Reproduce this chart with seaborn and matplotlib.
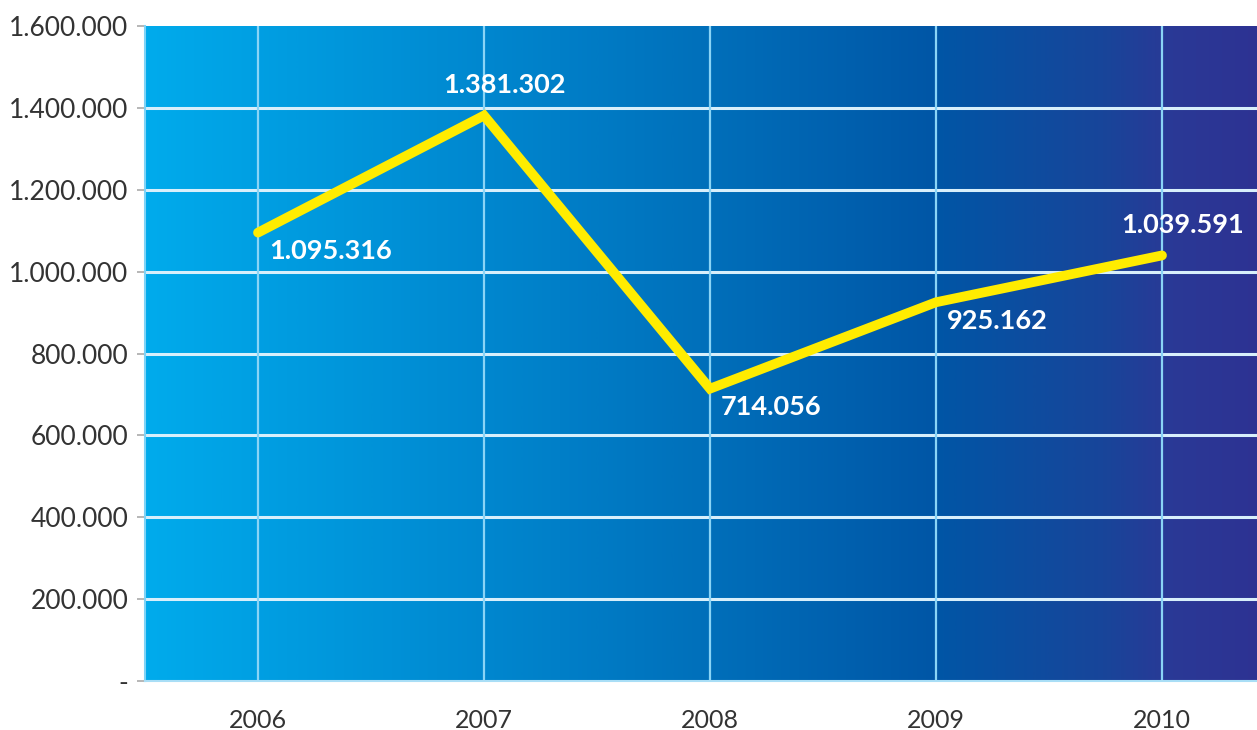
import numpy as np
import pandas as pd
import matplotlib
matplotlib.use("Agg")
import matplotlib.pyplot as plt
from matplotlib.colors import LinearSegmentedColormap
from matplotlib.ticker import FuncFormatter
import seaborn as sns

# Yearly totals
years = ["2006", "2007", "2008", "2009", "2010"]
values = [1095316, 1381302, 714056, 925162, 1039591]
value_labels = ["1.095.316", "1.381.302", "714.056", "925.162", "1.039.591"]
label_above = [False, True, False, False, True]

y_ticks = [0, 200000, 400000, 600000, 800000, 1000000, 1200000, 1400000, 1600000]

sns.set_style("white")
plt.rcParams["font.family"] = ["Lato", "DejaVu Sans"]

df = pd.DataFrame({"year": years, "value": values})

fig = plt.figure(figsize=(12.57, 7.30), dpi=100)
ax = fig.add_axes([145 / 1257, 49 / 730, 1130 / 1257, 655 / 730])

# horizontal blue gradient background
grad_cmap = LinearSegmentedColormap.from_list(
    "bg", [(0.0, "#00ABEC"), (0.30, "#0087CF"), (0.50, "#006FBA"),
           (0.70, "#0056A6"), (0.85, "#18459A"), (0.91, "#2A3996"),
           (1.0, "#2E3192")])
ax.imshow(np.linspace(0, 1, 512)[None, :], cmap=grad_cmap, aspect="auto",
          extent=[0, 1, 0, 1], transform=ax.transAxes, zorder=0,
          interpolation="bilinear")

sns.lineplot(data=df, x="year", y="value", ax=ax, color="#FFEC00",
             linewidth=7, zorder=5, sort=False)
ax.lines[-1].set_solid_joinstyle("miter")
ax.lines[-1].set_solid_capstyle("round")

ax.set_xlim(-0.5, 4.5)
ax.set_ylim(0, 1600000)
ax.set_yticks(y_ticks)
ax.yaxis.set_major_formatter(FuncFormatter(
    lambda v, _: "-" if v == 0 else f"{int(v):,}".replace(",", ".")))

for yv in y_ticks[1:-1]:
    ax.axhline(yv, color="#D8EFFB", linewidth=2.2, zorder=2)
for i in range(len(years)):
    ax.axvline(i, color="#8AD4F6", linewidth=1.6, zorder=2)

# value labels: above-centred for peaks, below-right elsewhere
for i, (v, lab, up) in enumerate(zip(values, value_labels, label_above)):
    if up:
        ax.annotate(lab, (i, v), xytext=(15, 22), textcoords="offset points",
                    ha="center", va="center", color="white",
                    fontsize=19.5, fontweight="bold", zorder=6)
    else:
        ax.annotate(lab, (i, v), xytext=(8, -13.5), textcoords="offset points",
                    ha="left", va="center", color="white",
                    fontsize=19.5, fontweight="bold", zorder=6)

for s in ["top", "right"]:
    ax.spines[s].set_visible(False)
ax.spines["left"].set_color("#7FD3F7")
ax.spines["bottom"].set_color("#A9DEF6")
ax.spines["left"].set_linewidth(1.5)
ax.spines["bottom"].set_linewidth(1.5)

ax.tick_params(axis="y", length=6, width=1.2, color="#AAAAAA", pad=6,
               labelsize=19, labelcolor="#333333", left=True)
ax.tick_params(axis="x", length=0, pad=20, labelsize=18, labelcolor="#333333")
ax.set_xlabel("")
ax.set_ylabel("")

fig.savefig("out.png", dpi=100, facecolor="white")
